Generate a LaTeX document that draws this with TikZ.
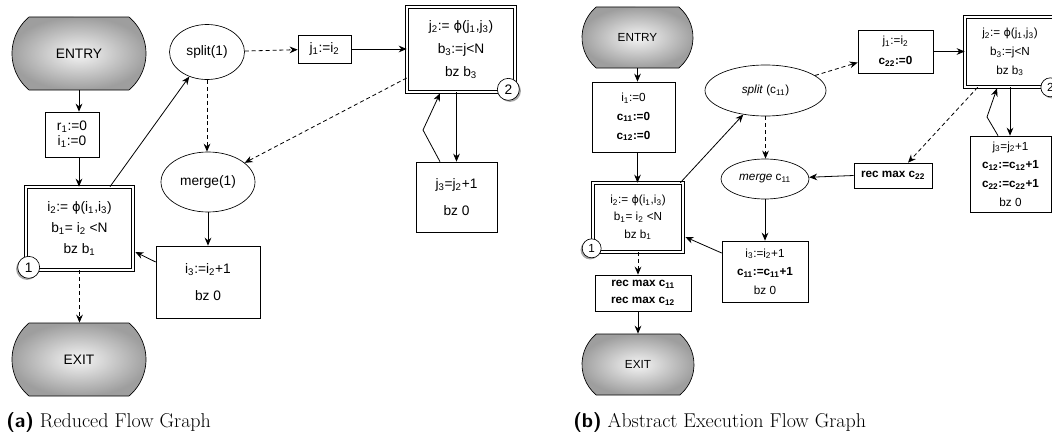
\documentclass[tikz,border=0pt]{standalone}
\usepackage{fontspec}
\newfontfamily\lab{Liberation Sans}
\newfontfamily\dvs{DejaVu Sans}
\usetikzlibrary{arrows.meta,shapes.geometric,shapes.misc,calc,shadows}
\newcommand\sbs[1]{\textsubscript{#1}}
\newcommand\phig{{\dvs\scalebox{0.95}{ϕ}}}
\begin{document}
\begin{tikzpicture}[x=0.75pt,y=-0.75pt,
  fA/.style={font=\lab\fontsize{10.3}{#1}\selectfont}, fA/.default=12.4,
  fB/.style={font=\lab\fontsize{8.8}{#1}\selectfont}, fB/.default=10.5,
  box/.style={draw, line width=0.5pt, align=center, inner sep=0pt},
  blk/.style={box, double, double distance=1.3pt},
  oval/.style={ellipse, draw, line width=0.5pt, inner sep=0pt, align=center},
  terminal/.style={rounded rectangle, rounded rectangle arc length=100, draw, line width=0.5pt,
     inner color=black!4, outer color=black!38, inner sep=0pt},
  numcirc/.style={circle, draw, fill=white, line width=0.5pt, inner sep=0pt,
     drop shadow={shadow xshift=-1.2pt, shadow yshift=-1.2pt, opacity=0.7}},
  numcircr/.style={circle, draw, fill=white, line width=0.5pt, inner sep=0pt,
     drop shadow={shadow xshift=1.2pt, shadow yshift=-1.2pt, opacity=0.7}},
  arr/.style={draw, line width=0.6pt, -{Stealth[length=6pt,width=5pt]}},
  darr/.style={arr, dash pattern=on 3pt off 2.2pt},
  captxt/.style={anchor=base west, inner sep=0pt, font=\fontsize{15}{18}\selectfont}
]
\useasboundingbox (0,0) rectangle (1052,432);

% ---------------- (a) ----------------
\node[terminal, fA, minimum width=100.5pt, minimum height=54.75pt] (entry) at (79,53.5) {ENTRY};
\node[box, fA=11.25, minimum width=40.5pt, minimum height=33.75pt] (r1) at (72,134.5)
  {r\sbs{1}:=0\\i\sbs{1}:=0};
\node[blk, fA=16, minimum width=80.25pt, minimum height=62.25pt] (block1) at (79.5,228.5)
  {i\sbs{2}:= \phig(i\sbs{1},i\sbs{3})\\b\sbs{1}= i\sbs{2} <N\\bz b\sbs{1}};
\node[numcirc, fA, minimum size=16.5pt] (c1a) at ($(block1.south west)+(3,-3)$) {1};
\node[terminal, fA, minimum width=100.5pt, minimum height=54.75pt] (exit) at (79,359.5) {EXIT};
\node[oval, fA, minimum width=56.25pt, minimum height=41.25pt] (split1) at (207,52) {split(1)};
\node[oval, fA, minimum width=70.5pt, minimum height=45pt] (merge1) at (208,182) {merge(1)};
\node[box, fA=20, minimum width=78pt, minimum height=54pt] (i3) at (208,282)
  {i\sbs{3}:=i\sbs{2}+1\\bz 0};
\node[box, fA, minimum width=39.75pt, minimum height=21pt] (j1) at (324.5,49) {j\sbs{1}:=i\sbs{2}};
\node[blk, fA=17, minimum width=81pt, minimum height=63.75pt] (block2) at (461,49.5)
  {j\sbs{2}:= \phig(j\sbs{1},j\sbs{3})\\b\sbs{3}:=j<N\\bz b\sbs{3}};
\node[numcircr, fA, minimum size=16.5pt] (c2a) at ($(block2.south east)+(-7,-3)$) {2};
\node[box, fA=20, minimum width=60.75pt, minimum height=52.5pt] (j3) at (456.5,197)
  {j\sbs{3}=j\sbs{2}+1\\bz 0};
\coordinate (kinka) at (423,130);

\path[arr] (entry.south) -- (entry.south |- r1.north);
\path[arr] (entry.south |- r1.south) -- (entry.south |- block1.north);
\path[darr] (block1.south) -- (block1.south |- exit.north);
\path[arr] ($(block1.north)+(30.5,0)$) -- (split1);
\path[darr] (split1.south) -- (split1.south |- merge1.north);
\path[arr] (merge1.south) -- (merge1.south |- i3.north);
\path[arr] ($(i3.west)+(0,-20)$) -- ($(block1.east)+(2,23.5)$);
\path[darr] (split1) -- (j1);
\path[arr] (j1.east) -- (j1.east -| block2.west);
\path[darr] ($(block2.west)+(0,28.5)$) -- (merge1);
\path[arr] (j3.north |- block2.south) -- (j3.north);
\path[arr] ($(j3.north)+(-16.5,0)$) -- (kinka) -- ($(block2.south)+(-21,1)$);

\node[captxt] (capa) at (6,427) {{\sffamily\bfseries (a)} Reduced Flow Graph};

% ---------------- (b) ----------------
\node[terminal, fB, minimum width=83.25pt, minimum height=45.75pt] (entryb) at (637.5,37.5) {ENTRY};
\node[box, fB=14, minimum width=62.25pt, minimum height=52.5pt] (i1b) at (633.5,117)
  {i\sbs{1}:=0\\\textbf{c\sbs{11}:=0}\\\textbf{c\sbs{12}:=0}};
\node[blk, fB=13, minimum width=67.5pt, minimum height=51.75pt] (b1b) at (638,217.5)
  {i\sbs{2}:= \phig(i\sbs{1},i\sbs{3})\\b\sbs{1}= i\sbs{2} <N\\bz b\sbs{1}};
\node[numcirc, fB, minimum size=14.25pt] (c1b) at ($(b1b.south west)+(-1,-4)$) {1};
\node[box, fB=12.75, minimum width=72pt, minimum height=27pt] (recmax) at (643,293)
  {\textbf{rec max c\sbs{11}}\\\textbf{rec max c\sbs{12}}};
\node[terminal, fB, minimum width=84pt, minimum height=45.75pt] (exitb) at (638,364.5) {EXIT};
\node[oval, fB, minimum width=90.75pt, minimum height=38.25pt] (split2) at (765.5,90.5)
  {\textit{split} (c\sbs{11})};
\node[oval, fB, minimum width=66pt, minimum height=30pt] (merge2) at (765,179)
  {\textit{merge} c\sbs{11}};
\node[box, fB=13.9, minimum width=64.5pt, minimum height=45.75pt] (i3b) at (765,271.5)
  {i\sbs{3}:=i\sbs{2}+1\\\textbf{c\sbs{11}:=c\sbs{11}+1}\\bz 0};
\node[box, fB=15, minimum width=56.25pt, minimum height=32.25pt] (j1b) at (895.5,51.5)
  {j\sbs{1}:=i\sbs{2}\\\textbf{c\sbs{22}:=0}};
\node[box, fB, minimum width=58.5pt, minimum height=18.75pt] (recb) at (893,175.5)
  {\textbf{rec max c\sbs{22}}};
\node[blk, fB=14, minimum width=67.5pt, minimum height=52.5pt] (b2b) at (1010,52)
  {j\sbs{2}:= \phig(j\sbs{1},j\sbs{3})\\b\sbs{3}:=j<N\\bz b\sbs{3}};
\node[numcircr, fB, minimum size=14.25pt] (c2b) at ($(b2b.south east)+(-5,0)$) {2};
\node[box, fB=14, minimum width=60.75pt, minimum height=57pt] (j3b) at (1010.5,174)
  {j\sbs{3}=j\sbs{2}+1\\\textbf{c\sbs{12}:=c\sbs{12}+1}\\\textbf{c\sbs{22}:=c\sbs{22}+1}\\bz 0};
\coordinate (kinkb) at (987,117);

\path[arr] (entryb.south) -- (entryb.south |- i1b.north);
\path[arr] (entryb.south |- i1b.south) -- (entryb.south |- b1b.north);
\path[darr] (b1b.south) -- (b1b.south |- recmax.north);
\path[arr] (b1b.south |- recmax.south) -- (b1b.south |- exitb.north);
\path[arr] ($(b1b.north east)+(-3,0)$) -- (split2);
\path[darr] (split2) -- ($(j1b.west)+(0,11)$);
\path[arr] (j1b.east) -- (j1b.east -| b2b.west);
\path[darr] (split2.south) -- (split2.south |- merge2.north);
\path[arr] (merge2.south) -- (merge2.south |- i3b.north);
\path[arr] ($(i3b.west)+(0,-18.5)$) -- ($(b1b.east)+(2,19.5)$);
\path[arr] (recb.west) -- (merge2);
\path[darr] ($(b2b.south west)+(13,0)$) -- ($(recb.north)+(15,0)$);
\path[arr] (b2b.south) -- (b2b.south |- j3b.north);
\path[arr] ($(j3b.north)+(-12.5,0)$) -- (kinkb) -- ($(b2b.south)+(-13,1)$);

\node[captxt] (capb) at (573,427) {{\sffamily\bfseries (b)} Abstract Execution Flow Graph};
\end{tikzpicture}
\end{document}
